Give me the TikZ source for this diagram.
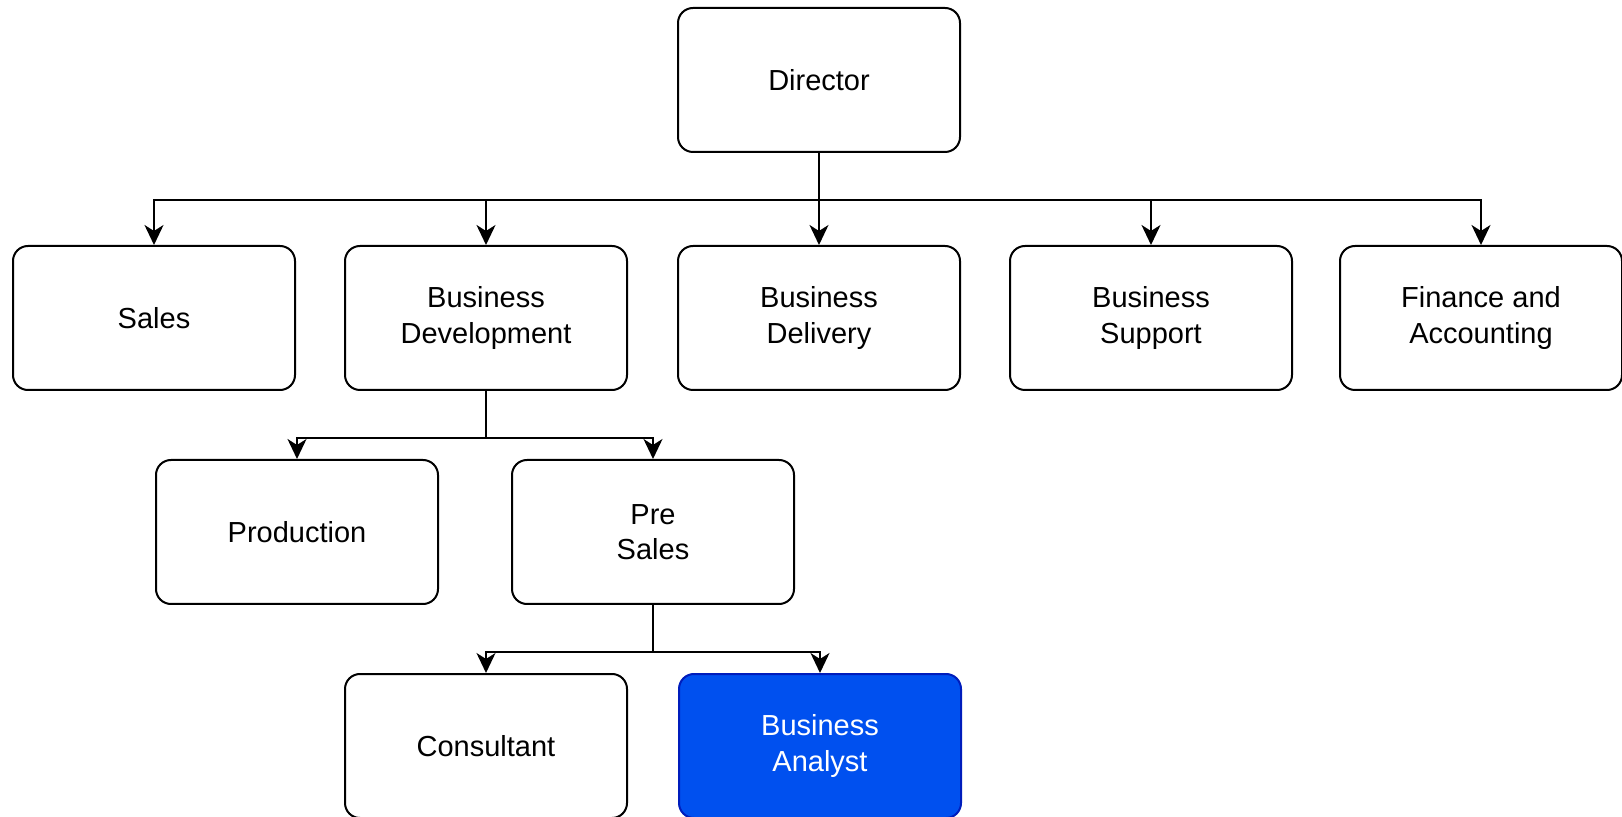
\documentclass[tikz,border=0pt]{standalone}
\usepackage{fontspec}
\setmainfont{Liberation Sans}
\usepackage{tikz}
\usetikzlibrary{positioning,arrows.meta}
\definecolor{baFill}{HTML}{0050EF}
\definecolor{baLine}{HTML}{001DBC}

\begin{document}
\begin{tikzpicture}[node distance=107pt, font=\fontsize{14.5}{17.6}\selectfont,
    line width=1pt, >={Stealth[length=10pt,width=9.5pt,inset=3pt]},
    box/.style={draw, rounded corners=7.5pt, minimum width=141pt, minimum height=72pt, align=center, fill=white}]
        \useasboundingbox (0,0) rectangle (811pt,-408.5pt);
        \node (director) [box] at (409.5pt,-40pt) {Director};

        \node (delivery) [box, below of=director, yshift=-12pt] {Business\\Delivery};
        \node (sales) [box, below of=director, xshift=-332.5pt, yshift=-12pt] {Sales};
        \node (develop) [box, below of=director, xshift=-166.5pt, yshift=-12pt] {Business\\Development};
        \node (support) [box, below of=director, xshift=166pt, yshift=-12pt] {Business\\Support};
        \node (finance) [box, below of=director, xshift=331pt, yshift=-12pt] {Finance and\\Accounting};

        \node (production) [box, below of=develop, xshift=-94.5pt] {Production};
        \node (presales) [box, below of=develop, xshift=83.5pt] {Pre\\Sales};

        \node (consultant) [box, below of=presales, xshift=-83.5pt] {Consultant};
        \node (analyst) [box, fill=baFill, draw=baLine, text=white, below of=presales, xshift=83.5pt] {Business\\Analyst};

        \draw[->] (director) -- (delivery);
        \draw[->] (director.south) -- ++(0,-23.5pt) -| (sales);
        \draw[->] (director.south) -- ++(0,-23.5pt) -| (develop);
        \draw[->] (director.south) -- ++(0,-23.5pt) -| (support);
        \draw[->] (director.south) -- ++(0,-23.5pt) -| (finance);

        \draw[->] (develop.south) -- ++(0,-23.5pt) -| (production);
        \draw[->] (develop.south) -- ++(0,-23.5pt) -| (presales);

        \draw[->] (presales.south) -- ++(0,-23.5pt) -| (consultant);
        \draw[->] (presales.south) -- ++(0,-23.5pt) -| (analyst);
    \end{tikzpicture}
\end{document}
